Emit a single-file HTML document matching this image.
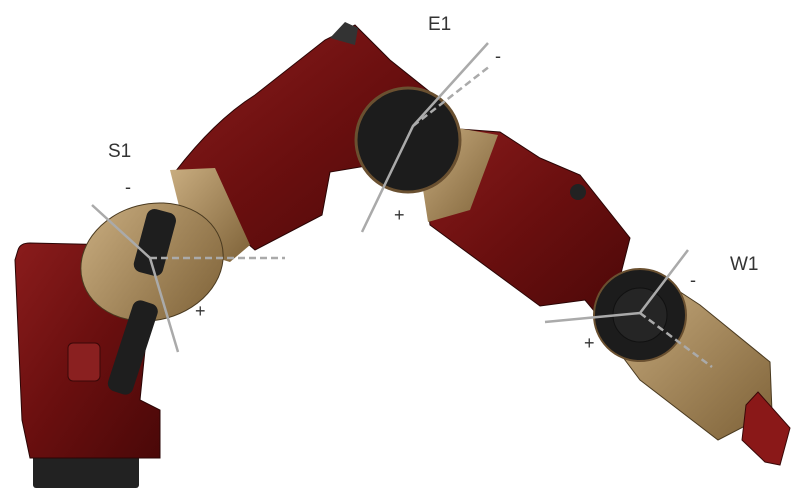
<!DOCTYPE html>
<html><head><meta charset="utf-8"><style>
html,body{margin:0;padding:0;background:#fff;width:800px;height:504px;overflow:hidden}
text{font-family:"Liberation Sans",sans-serif;fill:#333}
</style></head><body>
<svg width="800" height="504" viewBox="0 0 800 504">
<defs>
<linearGradient id="red" x1="0" y1="0" x2="1" y2="1"><stop offset="0" stop-color="#8a1c1c"/><stop offset="0.5" stop-color="#6a0f0f"/><stop offset="1" stop-color="#4a0808"/></linearGradient>
<linearGradient id="tan" x1="0" y1="0" x2="1" y2="1"><stop offset="0" stop-color="#c9ad80"/><stop offset="1" stop-color="#7e6238"/></linearGradient>
</defs>
<!-- base -->
<g>
<rect x="33" y="455" width="106" height="33" rx="3" fill="#222"/>
<path d="M18,250 Q20,243 30,243 L120,245 L150,300 L140,400 L160,410 L160,458 L30,458 L22,420 L15,260 Z" fill="url(#red)" stroke="#2a0505" stroke-width="1"/>
<rect x="68" y="343" width="32" height="38" rx="5" fill="#8a2020" stroke="#3a0808"/>
</g>
<!-- upper arm -->
<g>
<path d="M175,172 Q215,120 255,95 L325,40 L355,25 L390,60 L440,100 L455,130 L410,190 L372,165 L330,172 L322,215 L255,250 L215,215 Z" fill="url(#red)" stroke="#2a0505"/>
<path d="M330,38 L345,22 L358,28 L355,45 Z" fill="#333"/>
<path d="M170,170 L215,168 L250,245 L230,262 L190,250 Z" fill="url(#tan)"/>
<ellipse cx="152" cy="262" rx="72" ry="58" transform="rotate(-15 152 262)" fill="url(#tan)" stroke="#4a3a20"/>
</g>
<!-- spring -->
<g>
<rect x="140" y="210" width="30" height="65" rx="8" transform="rotate(15 155 242)" fill="#1e1e1e"/>
<rect x="120" y="300" width="26" height="95" rx="8" transform="rotate(18 133 347)" fill="#1e1e1e"/>
</g>
<!-- forearm -->
<g>
<path d="M420,120 L445,128 L500,132 L540,158 L580,175 L630,238 L618,285 L640,292 L600,318 L585,300 L540,306 L430,225 L425,180 Z" fill="url(#red)" stroke="#2a0505"/>
<path d="M440,125 L498,135 L470,210 L428,222 L420,170 Z" fill="url(#tan)"/>
<circle cx="408" cy="140" r="52" fill="#1c1c1c" stroke="#6a5030" stroke-width="3"/>
<circle cx="578" cy="192" r="8" fill="#222"/>
</g>
<!-- wrist -->
<g>
<path d="M615,290 L665,282 L700,305 L770,362 L772,412 L718,440 L640,380 L610,340 Z" fill="url(#tan)" stroke="#4a3a20"/>
<path d="M758,392 L790,428 L780,465 L765,462 L742,440 L746,405 Z" fill="#8a1818" stroke="#3a0808"/>
<circle cx="640" cy="315" r="46" fill="#1c1c1c" stroke="#6a5030" stroke-width="2"/>
<circle cx="640" cy="315" r="27" fill="#252525" stroke="#111"/>
</g>
<!-- axis lines -->
<g stroke="#aaa" stroke-width="2.5" fill="none">
<polyline points="92,205 150,258 178,352"/>
<line x1="150" y1="258" x2="285" y2="258" stroke-dasharray="7,4"/>
<polyline points="488,43 413,126 362,232"/>
<line x1="413" y1="126" x2="490" y2="66" stroke-dasharray="7,4"/>
<polyline points="688,250 640,313 545,322"/>
<line x1="640" y1="313" x2="712" y2="367" stroke-dasharray="7,4"/>
</g>
<!-- labels -->
<text x="108" y="157" font-size="19">S1</text>
<text x="125" y="193" font-size="18">-</text>
<text x="195" y="317" font-size="18">+</text>
<text x="428" y="30" font-size="19">E1</text>
<text x="495" y="62" font-size="18">-</text>
<text x="394" y="221" font-size="18">+</text>
<text x="730" y="270" font-size="19">W1</text>
<text x="690" y="286" font-size="18">-</text>
<text x="584" y="349" font-size="18">+</text>
</svg>
</body></html>
